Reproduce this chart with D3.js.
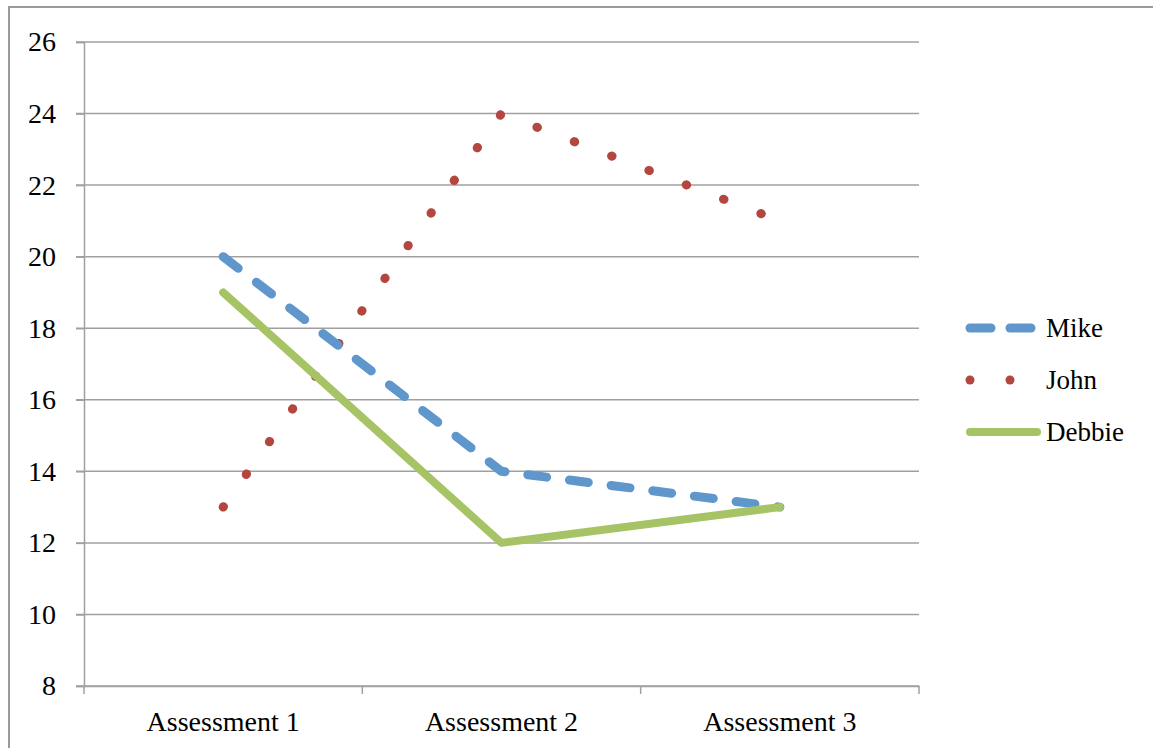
<!DOCTYPE html>
<html><head><meta charset="utf-8">
<script src="https://cdn.jsdelivr.net/npm/d3@7"></script>
<style>body{margin:0;background:#fff}svg{display:block}</style>
</head><body>
<script>
const categories = ["Assessment 1", "Assessment 2", "Assessment 3"];
const mike = [20, 14, 13];
const john = [13, 24, 21];
const debbie = [19, 12, 13];
const yTicks = [8, 10, 12, 14, 16, 18, 20, 22, 24, 26];
const seriesNames = ["Mike", "John", "Debbie"];

const W = 1153, H = 748;
const svg = d3.select("body").append("svg").attr("width", W).attr("height", H);
const font = "'Liberation Serif', serif";
const gray = "#a0a0a0";

svg.append("rect").attr("x", 9).attr("y", 7).attr("width", 1160).attr("height", 760)
  .attr("fill", "#fff").attr("stroke", "#9a9a9a").attr("stroke-width", 2);

const x = d3.scaleBand().domain(categories).range([84, 919]).padding(0);
const y = d3.scaleLinear().domain([8, 26]).range([686, 42]);

// gridlines
svg.append("g").selectAll("line").data(yTicks).join("line")
  .attr("x1", 76).attr("x2", 919)
  .attr("y1", d => y(d)).attr("y2", d => y(d))
  .attr("stroke", gray).attr("stroke-width", 1.5);

// y axis
const yAxis = svg.append("g").attr("transform", "translate(84,0)")
  .call(d3.axisLeft(y).tickValues(yTicks).tickSize(8).tickPadding(20));
yAxis.select(".domain").attr("stroke", gray).attr("stroke-width", 1.5);
yAxis.selectAll(".tick line").attr("stroke", gray).attr("stroke-width", 1.5);
yAxis.selectAll("text").attr("font-family", font).attr("font-size", 28).attr("fill", "#000");

// x axis
const xAxis = svg.append("g").attr("transform", "translate(0,686)")
  .call(d3.axisBottom(x).tickSize(0).tickPadding(25));
xAxis.select(".domain").attr("stroke", gray).attr("stroke-width", 1.5);
xAxis.selectAll("text").attr("font-family", font).attr("font-size", 28).attr("fill", "#000");
const bounds = [84].concat(categories.map(c => x(c) + x.bandwidth()));
svg.append("g").selectAll("line").data(bounds).join("line")
  .attr("x1", d => d).attr("x2", d => d).attr("y1", 686).attr("y2", 694)
  .attr("stroke", gray).attr("stroke-width", 1.5);

const cx = c => x(c) + x.bandwidth() / 2;
const line = d3.line().x((d, i) => cx(categories[i])).y(d => y(d));

const styles = {
  Mike: {color: "#5f97cd", dash: "19,23", width: 9, data: mike},
  John: {color: "#b3463f", dash: "0.5,39.5", width: 9, data: john},
  Debbie: {color: "#a6c465", dash: null, width: 8, data: debbie}
};

["John", "Mike", "Debbie"].forEach(n => {
  const s = styles[n];
  svg.append("path").datum(s.data).attr("d", line)
    .attr("fill", "none").attr("stroke", s.color).attr("stroke-width", s.width)
    .attr("stroke-linecap", "round").attr("stroke-linejoin", "round")
    .attr("stroke-dasharray", s.dash);
});

// legend
const leg = svg.append("g");
const legY = [328, 380, 432];
seriesNames.forEach((n, i) => {
  const s = styles[n];
  const g = leg.append("g");
  if (n === "Mike") {
    [[970, 991], [1010, 1031]].forEach(p => g.append("line").attr("x1", p[0]).attr("x2", p[1])
      .attr("y1", legY[i]).attr("y2", legY[i]).attr("stroke", s.color).attr("stroke-width", 9).attr("stroke-linecap", "round"));
  } else if (n === "John") {
    [970, 1010].forEach(px => g.append("circle").attr("cx", px).attr("cy", legY[i]).attr("r", 4.5).attr("fill", s.color));
  } else {
    g.append("line").attr("x1", 970).attr("x2", 1037).attr("y1", legY[i]).attr("y2", legY[i])
      .attr("stroke", s.color).attr("stroke-width", 8).attr("stroke-linecap", "round");
  }
  g.append("text").attr("x", 1046).attr("y", legY[i]).attr("dy", "0.35em")
    .attr("font-family", font).attr("font-size", 27).attr("fill", "#000").text(n);
});
</script>
</body></html>
